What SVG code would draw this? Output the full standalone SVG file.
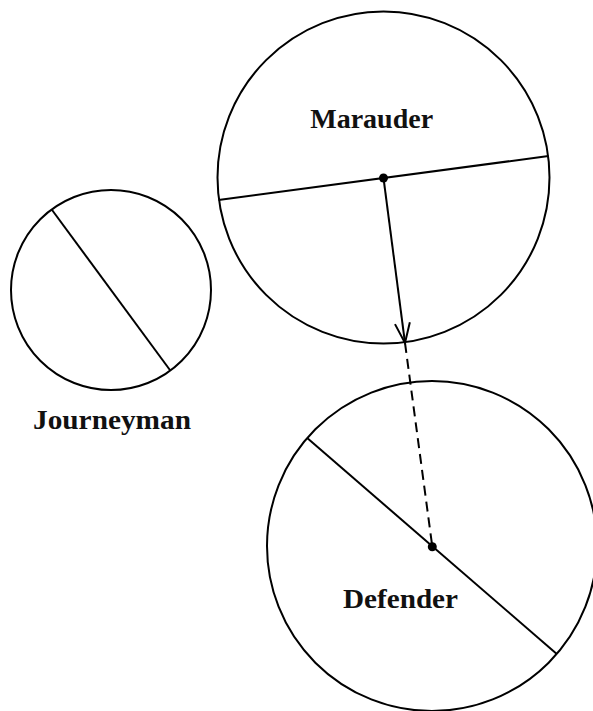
<svg xmlns="http://www.w3.org/2000/svg" width="593" height="711" viewBox="0 0 593 711">
<style>
.c{fill:none;stroke:#000;stroke-width:2}
.l{stroke:#000;stroke-width:2;fill:none}
.t{font-family:"Liberation Serif","Times New Roman",serif;font-weight:bold;font-size:28px;fill:#111;text-anchor:middle}
.d{fill:#000}
</style>
<defs>
<marker id="arr" markerUnits="userSpaceOnUse" markerWidth="24" markerHeight="18" viewBox="0 -9 24 18" refX="21" refY="0" orient="auto">
<path d="M1,-7.5 L21,0 L1,7.5" fill="none" stroke="#000" stroke-width="2"/>
</marker>
</defs>
<rect width="593" height="711" fill="#fff"/>
<g id="marauder">
<circle class="c" cx="383.5" cy="177.5" r="166"/>
<line class="l" x1="218.5" y1="200" x2="548.5" y2="156"/>
<text class="t" x="371.7" y="127.7" textLength="123" lengthAdjust="spacingAndGlyphs">Marauder</text>
</g>
<g id="journeyman">
<circle class="c" cx="111" cy="290" r="100"/>
<line class="l" x1="51.7" y1="209.5" x2="170.3" y2="370.5"/>
<text class="t" x="112" y="429" textLength="158" lengthAdjust="spacingAndGlyphs">Journeyman</text>
</g>
<g id="defender">
<circle class="c" cx="432" cy="546" r="165"/>
<line class="l" x1="307.2" y1="438" x2="556.8" y2="654"/>
<text class="t" x="400.5" y="608" textLength="115" lengthAdjust="spacingAndGlyphs">Defender</text>
</g>
<g id="connectors">
<line class="l" x1="383.5" y1="178" x2="405" y2="343" marker-end="url(#arr)"/>
<line class="l" x1="405" y1="343" x2="432.3" y2="546.7" stroke-dasharray="10,6"/>
<circle class="d" cx="383.5" cy="178" r="4.5"/>
<circle class="d" cx="432.3" cy="546.7" r="4.5"/>
</g>
</svg>
